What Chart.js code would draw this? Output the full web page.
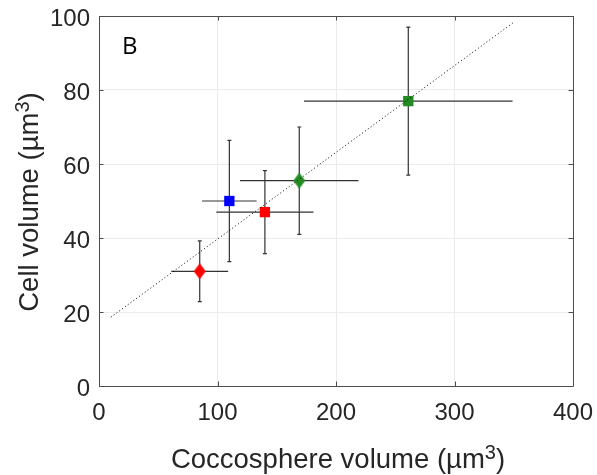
<!DOCTYPE html>
<html lang="en">
  <head>
    <meta charset="UTF-8" />
    <title>Cell volume vs coccosphere volume</title>
    <script src="https://cdn.jsdelivr.net/npm/chart.js"></script>
    <style>
      body {
        margin: 0;
        background: #fff;
      }
      canvas {
        display: block;
      }
    </style>
  </head>
  <body>
    <canvas id="myChart" width="597" height="475"></canvas>

    <script>
      // Mean volumes with standard deviations, one entry per group
      const coccoVolume = [85, 110, 140, 169, 261];
      const coccoErr = [24, 23, 41, 50, 88];
      const cellVolume = [31, 50, 47, 55.5, 77];
      const cellErr = [8.2, 16.4, 11.2, 14.5, 20];

      // Dotted regression line (end points)
      const fitX = [10, 350];
      const fitY = [18.6, 98.3];

      // Axis ticks
      const xTicks = [0, 100, 200, 300, 400];
      const yTicks = [0, 20, 40, 60, 80, 100];

      // Marker appearance per group
      const markerColors = ["#ff0000", "#0000ff", "#ff0000", "#228b22", "#228b22"];
      const markerShapes = ["diamond", "square", "square", "diamond", "square"];

      const FONT = "'Liberation Sans', Arial, sans-serif";
      const TEXT = "#262626";

      // MATLAB-style diamond: a bit taller than wide
      function diamond(color) {
        const c = document.createElement("canvas");
        c.width = 12;
        c.height = 16;
        const g = c.getContext("2d");
        g.fillStyle = color;
        g.beginPath();
        g.moveTo(6, 0);
        g.lineTo(12, 8);
        g.lineTo(6, 16);
        g.lineTo(0, 8);
        g.closePath();
        g.fill();
        return c;
      }

      const pointSets = coccoVolume.map((x, i) => ({
        type: "scatter",
        data: [{ x: x, y: cellVolume[i] }],
        backgroundColor: markerColors[i],
        borderColor: markerColors[i],
        borderWidth: 0,
        pointStyle: markerShapes[i] === "diamond" ? diamond(markerColors[i]) : "rect",
        pointRadius: 7.3,
        order: 1,
      }));

      const fitSet = {
        type: "line",
        data: fitX.map((x, i) => ({ x: x, y: fitY[i] })),
        borderColor: "#000",
        borderWidth: 1,
        borderDash: [1, 2.5],
        pointRadius: 0,
        order: 0,
      };

      // Error bars, drawn under the markers
      const errorBars = {
        id: "errorBars",
        beforeDatasetsDraw(chart) {
          const { ctx, scales } = chart;
          const xs = scales.x;
          const ys = scales.y;
          ctx.save();
          ctx.strokeStyle = "#333";
          ctx.lineWidth = 1.2;
          coccoVolume.forEach((x, i) => {
            const y = cellVolume[i];
            const px = xs.getPixelForValue(x);
            const py = ys.getPixelForValue(y);
            const top = ys.getPixelForValue(y + cellErr[i]);
            const bot = ys.getPixelForValue(y - cellErr[i]);
            const left = xs.getPixelForValue(x - coccoErr[i]);
            const right = xs.getPixelForValue(x + coccoErr[i]);
            ctx.beginPath();
            ctx.moveTo(px, top);
            ctx.lineTo(px, bot);
            ctx.moveTo(px - 2, top);
            ctx.lineTo(px + 2, top);
            ctx.moveTo(px - 2, bot);
            ctx.lineTo(px + 2, bot);
            ctx.moveTo(left, py);
            ctx.lineTo(right, py);
            ctx.stroke();
          });
          ctx.restore();
        },
      };

      // Axis box, inward ticks, tick labels, titles and panel letter
      const frame = {
        id: "frame",
        afterDraw(chart) {
          const { ctx, chartArea: a, scales } = chart;
          ctx.save();
          ctx.strokeStyle = "#4d4d4d";
          ctx.lineWidth = 1;
          ctx.beginPath();
          ctx.rect(Math.round(a.left) + 0.5, Math.round(a.top) + 0.5, Math.round(a.right - a.left), Math.round(a.bottom - a.top));
          xTicks.forEach((t) => {
            const p = Math.round(scales.x.getPixelForValue(t)) + 0.5;
            ctx.moveTo(p, a.bottom);
            ctx.lineTo(p, a.bottom - 4.5);
            ctx.moveTo(p, a.top);
            ctx.lineTo(p, a.top + 4.5);
          });
          yTicks.forEach((t) => {
            const p = Math.round(scales.y.getPixelForValue(t)) + 0.5;
            ctx.moveTo(a.left, p);
            ctx.lineTo(a.left + 4.5, p);
            ctx.moveTo(a.right, p);
            ctx.lineTo(a.right - 4.5, p);
          });
          ctx.stroke();

          ctx.fillStyle = TEXT;
          ctx.font = "24px " + FONT;
          ctx.textAlign = "right";
          ctx.textBaseline = "middle";
          yTicks.forEach((t) => {
            ctx.fillText(String(t), a.left - 9, scales.y.getPixelForValue(t) + 3);
          });
          ctx.textAlign = "center";
          xTicks.forEach((t) => {
            ctx.fillText(String(t), scales.x.getPixelForValue(t), a.bottom + 27);
          });

          // title with a superscript 3
          function title(text, cx, cy, rotate) {
            ctx.save();
            ctx.translate(cx, cy);
            if (rotate) ctx.rotate(-Math.PI / 2);
            ctx.font = "27.5px " + FONT;
            const w1 = ctx.measureText(text).width;
            ctx.font = "20px " + FONT;
            const w2 = ctx.measureText("3").width;
            ctx.font = "27.5px " + FONT;
            const w3 = ctx.measureText(")").width;
            const x0 = -(w1 + w2 + w3) / 2;
            ctx.textAlign = "left";
            ctx.textBaseline = "alphabetic";
            ctx.fillText(text, x0, 0);
            ctx.fillText(")", x0 + w1 + w2, 0);
            ctx.font = "20px " + FONT;
            ctx.fillText("3", x0 + w1, -9);
            ctx.restore();
          }
          title("Coccosphere volume (\u00b5m", 338, 468, false);
          title("Cell volume (\u00b5m", 37.5, 202, true);

          ctx.font = "24px 'Open Sans', sans-serif";
          ctx.textAlign = "left";
          ctx.textBaseline = "alphabetic";
          ctx.fillStyle = "#000";
          ctx.fillText("B", 122, 54);
          ctx.restore();
        },
      };

      const ctx = document.getElementById("myChart").getContext("2d");
      const myChart = new Chart(ctx, {
        data: { datasets: [fitSet, ...pointSets] },
        options: {
          responsive: false,
          animation: false,
          layout: { padding: { top: 16, right: 24, left: 0, bottom: 0 } },
          plugins: {
            legend: { display: false },
            tooltip: { enabled: false },
          },
          scales: {
            x: {
              type: "linear",
              min: 0,
              max: 400,
              afterBuildTicks: (s) => {
                s.ticks = xTicks.map((v) => ({ value: v }));
              },
              afterFit: (s) => {
                s.height = 89;
              },
              grid: { color: "#ebebeb", drawTicks: false },
              border: { display: false },
              ticks: { display: false },
            },
            y: {
              type: "linear",
              min: 0,
              max: 100,
              afterBuildTicks: (s) => {
                s.ticks = yTicks.map((v) => ({ value: v }));
              },
              afterFit: (s) => {
                s.width = 99;
              },
              grid: { color: "#ebebeb", drawTicks: false },
              border: { display: false },
              ticks: { display: false },
            },
          },
        },
        plugins: [errorBars, frame],
      });
    </script>
  </body>
</html>
